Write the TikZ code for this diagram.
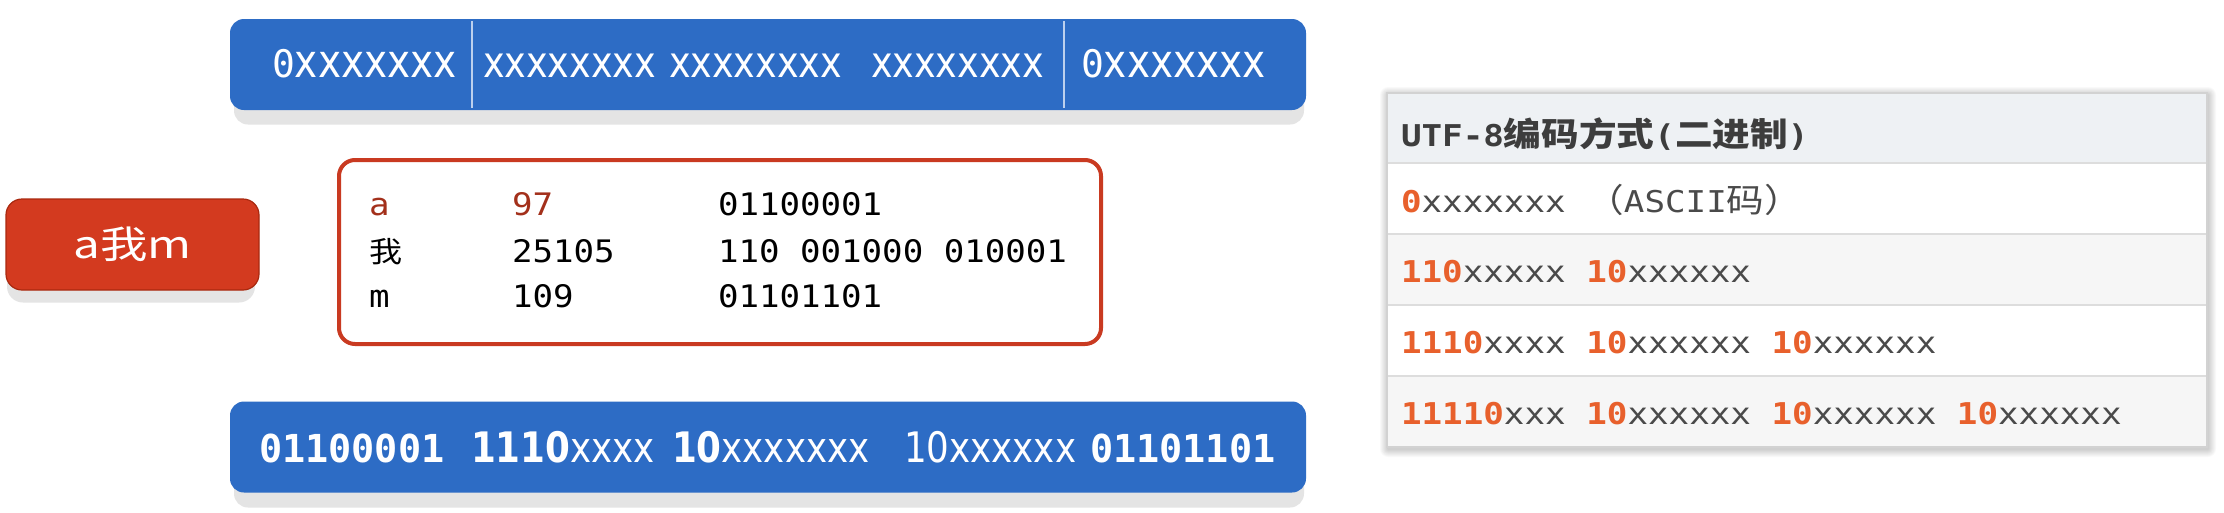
\documentclass[tikz,border=0pt]{standalone}
\usepackage{fontspec}
\newfontfamily\barmono{DejaVu Sans Mono}
\newfontfamily\boxmono[FakeStretch=1.1]{DejaVu Sans Mono}
\newfontfamily\tabmono[FakeStretch=1.14]{DejaVu Sans Mono}
\newfontfamily\barsans[FakeStretch=0.85]{DejaVu Sans}
\newfontfamily\cjk[FakeStretch=1.14]{Noto Sans CJK SC}
\newfontfamily\cjkbtn[FakeStretch=1.25]{Noto Sans CJK SC}
\definecolor{barblue}{HTML}{2D6CC5}
\definecolor{divline}{HTML}{BCD0EE}
\definecolor{shadowgray}{HTML}{E4E4E4}
\definecolor{btnred}{HTML}{D33A1F}
\definecolor{btnedge}{HTML}{A9290F}
\definecolor{boxred}{HTML}{C93A21}
\definecolor{darkred}{HTML}{A3301B}
\definecolor{orng}{HTML}{E8602C}
\definecolor{xgray}{HTML}{4A4A4A}
\definecolor{headgray}{HTML}{3D3D3D}
\definecolor{headfill}{HTML}{EEF1F4}
\definecolor{altfill}{HTML}{F6F6F6}
\definecolor{rowline}{HTML}{DDDDDD}
\definecolor{tabedge}{HTML}{D2D2D2}
\newcommand\barZ[1]{{\barmono\fontsize{38}{40}\selectfont #1}}
\newcommand\barX[1]{{\barsans\fontsize{46}{48}\selectfont #1}}
\newcommand\barXs[1]{{\barsans\fontsize{43}{48}\selectfont #1}}
\newcommand\botM[1]{{\barmono\bfseries\fontsize{38.5}{42}\selectfont #1}}
\newcommand\botS[1]{{\barsans\fontsize{42}{46}\selectfont #1}}
\newcommand\botB[1]{{\barsans\bfseries\fontsize{42}{46}\selectfont #1}}
\newcommand\bxm[1]{{\boxmono\fontsize{31}{36}\selectfont #1}}
\newcommand\bxc[1]{{\cjk\fontsize{29}{36}\selectfont #1}}
\newcommand\tbm[1]{{\tabmono\fontsize{30}{36}\selectfont #1}}
\newcommand\tbc[1]{{\cjk\fontsize{33}{40}\selectfont #1}}
\newcommand\orn[1]{{\bfseries\color{orng}#1}}
\begin{document}
\begin{tikzpicture}[x=1pt,y=-1pt,
  txt/.style={inner sep=0pt, outer sep=0pt, anchor=base west},
  barbox/.style={fill=barblue, rounded corners=14pt, minimum width=1076pt, minimum height=91pt, inner sep=0pt},
  shadowbar/.style={fill=shadowgray, rounded corners=14pt, minimum width=1070pt, minimum height=91pt, inner sep=0pt},
  btnbox/.style={fill=btnred, draw=btnedge, line width=1.2pt, rounded corners=16pt, minimum width=253pt, minimum height=91pt, inner sep=0pt},
  btnshadow/.style={fill=shadowgray, rounded corners=16pt, minimum width=248pt, minimum height=91pt, inner sep=0pt},
  codebox/.style={fill=white, draw=boxred, line width=4pt, rounded corners=16pt, minimum width=762pt, minimum height=184pt, inner sep=0pt},
]
\useasboundingbox (0,0) rectangle (2224,512);
\fill[white] (0,0) rectangle (2224,512);

% ---------- top bar ----------
\node[shadowbar] (topshadow) at (769,79) {};
\node[barbox] (topbar) at (768,64.5) {};
\coordinate (d1t) at (472,21); \coordinate (d1b) at (472,108);
\coordinate (d2t) at (1064,21); \coordinate (d2b) at (1064,108);
\draw[divline, line width=1.5pt] (d1t) -- (d1b);
\draw[divline, line width=1.5pt] (d2t) -- (d2b);
\begin{scope}[every node/.style={txt, text=white}]
\node (t1) at (272,77) {\barZ{0}\barX{xxxxxxx}};
\node (t2) at (483,77) {\barXs{xxxxxxxx}};
\node (t3) at (669,77) {\barXs{xxxxxxxx}};
\node (t4) at (871,77) {\barXs{xxxxxxxx}};
\node (t5) at (1081,77) {\barZ{0}\barX{xxxxxxx}};
\end{scope}

% ---------- button ----------
\node[btnshadow] (btnsh) at (131,257) {};
\node[btnbox] (btn) at (132.5,244.5) {};
\node[text=white, inner sep=0pt] (btntext) at (132.5,244) {\cjkbtn\fontsize{38}{42}\selectfont a我m};

% ---------- code box ----------
\node[codebox] (cbox) at (720,252) {};
\begin{scope}[every node/.style={txt}]
\node[text=darkred] (r1a) at (369,215) {\bxm{a}};
\node[text=darkred] (r1b) at (512,215) {\bxm{97}};
\node[text=black]   (r1c) at (718,215) {\bxm{01100001}};
\node[text=black]   (r2a) at (369,262) {\bxc{我}};
\node[text=black]   (r2b) at (512,262) {\bxm{25105}};
\node[text=black]   (r2c) at (718,262) {\bxm{110 001000 010001}};
\node[text=black]   (r3a) at (369,307) {\bxm{m}};
\node[text=black]   (r3b) at (512,307) {\bxm{109}};
\node[text=black]   (r3c) at (718,307) {\bxm{01101101}};
\end{scope}

% ---------- bottom bar ----------
\node[shadowbar] (botshadow) at (769,462) {};
\node[barbox] (botbar) at (768,447) {};
\begin{scope}[every node/.style={txt, text=white}]
\node (b1) at (259,462) {\botM{01100001}};
\node (b2) at (471,462) {\botB{1110}\botS{xxxx}};
\node (b3) at (672,462) {\botB{10}\botS{xxxxxxx}};
\node (b4) at (904,462) {\botS{10xxxxxx}};
\node (b5) at (1090,462) {\botM{01101101}};
\end{scope}

% ---------- table ----------
\foreach \i in {1,...,8}{
  \fill[black, opacity=0.022, rounded corners=\i pt] ({1387-\i+1},{93-\i+2}) rectangle ({2207+\i+1},{447+\i+2});
}
\fill[headfill] (1387,93) rectangle (2207,163);
\fill[white]    (1387,163) rectangle (2207,234);
\fill[altfill]  (1387,234) rectangle (2207,305);
\fill[white]    (1387,305) rectangle (2207,376);
\fill[altfill]  (1387,376) rectangle (2207,447);
\foreach \yy in {163,234,305,376}{
  \draw[rowline, line width=2pt] (1387,\yy) -- (2207,\yy);
}
\draw[tabedge, line width=1.5pt] (1387,93) rectangle (2207,447);
\begin{scope}[every node/.style={txt}]
\node[text=headgray] (th) at (1401,146) {\bfseries\tbm{\bfseries UTF-8}\tbc{\bfseries 编码方式}\tbm{\bfseries (}\tbc{\bfseries 二进制}\tbm{\bfseries )}};
\node[text=xgray] (tr1) at (1401,212) {\tbm{\orn{0}xxxxxxx }\tbc{（}\tbm{ASCII}\tbc{码）}};
\node[text=xgray] (tr2) at (1401,282) {\tbm{\orn{110}xxxxx \orn{10}xxxxxx}};
\node[text=xgray] (tr3) at (1401,353) {\tbm{\orn{1110}xxxx \orn{10}xxxxxx \orn{10}xxxxxx}};
\node[text=xgray] (tr4) at (1401,424) {\tbm{\orn{11110}xxx \orn{10}xxxxxx \orn{10}xxxxxx \orn{10}xxxxxx}};
\end{scope}
\end{tikzpicture}
\end{document}
